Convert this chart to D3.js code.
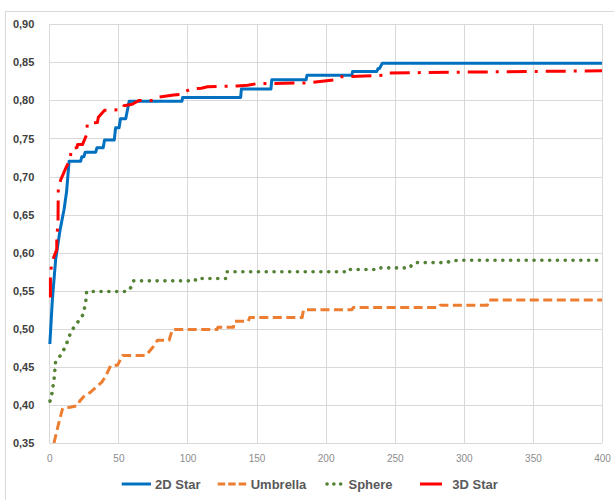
<!DOCTYPE html>
<html>
<head>
<meta charset="utf-8">
<script src="https://cdn.jsdelivr.net/npm/d3@7"></script>
<style>
  body { margin: 0; background: #fff; }
  svg { display: block; }
</style>
</head>
<body>
<div id="app"></div>
<script>
// x tick values and y tick values
const xTicks = [0, 50, 100, 150, 200, 250, 300, 350, 400];
const yTicks = [0.35, 0.40, 0.45, 0.50, 0.55, 0.60, 0.65, 0.70, 0.75, 0.80, 0.85, 0.90];

// series as [x, value] break points
const star2d = [
    [0.4, 0.48], [2.2, 0.538], [4.6, 0.591], [7.8, 0.63], [10.7, 0.657], [12.5, 0.68], [14.3, 0.72],
    [22.7, 0.72], [23.5, 0.726], [25, 0.726], [26, 0.732], [33.6, 0.732], [34.5, 0.738], [39, 0.738],
    [40, 0.748], [47, 0.748], [48, 0.764], [50.5, 0.764], [51.5, 0.776], [55.3, 0.776], [57.8, 0.799],
    [96, 0.799], [96.5, 0.804], [138.5, 0.804], [139, 0.815], [160.4, 0.815], [161, 0.827],
    [185.8, 0.827], [186.5, 0.833], [219, 0.833], [219.5, 0.838], [237, 0.838], [238, 0.842],
    [239, 0.842], [241, 0.849], [400, 0.849]
];
const umbrella = [
    [3.4, 0.35], [6, 0.37], [9.4, 0.394], [10, 0.396], [15, 0.397], [20.3, 0.399], [22, 0.405],
    [25, 0.411], [30, 0.417], [34.8, 0.425], [38, 0.43], [40.9, 0.438], [44.5, 0.452], [49.3, 0.452],
    [53, 0.465], [69.9, 0.465], [74.6, 0.475], [78.3, 0.485], [86.7, 0.485], [89.1, 0.499],
    [121.3, 0.499], [122, 0.502], [133.3, 0.502], [134, 0.51], [144, 0.51], [145, 0.515],
    [183, 0.515], [184, 0.525], [219, 0.525], [220, 0.528], [282, 0.528], [283, 0.531],
    [317, 0.531], [318, 0.538], [400, 0.538]
];
const sphere = [
    [0.5, 0.405], [2, 0.416], [3.5, 0.435], [4.5, 0.456], [7, 0.462], [11.9, 0.477], [14.3, 0.49],
    [16.7, 0.499], [20.3, 0.508], [24.6, 0.519], [26.4, 0.536], [27, 0.549], [56.5, 0.549],
    [59.4, 0.555], [61, 0.563], [105.6, 0.563], [106, 0.566], [128, 0.566], [128.6, 0.575],
    [215.5, 0.575], [216, 0.578], [237, 0.578], [238, 0.58], [261, 0.58], [262.6, 0.585],
    [266, 0.587], [288, 0.587], [290, 0.589], [296, 0.59], [400, 0.59]
];
const star3d = [
    [0.8, 0.541], [0.8, 0.571], [1.5, 0.582], [3.4, 0.595], [5.4, 0.604], [5.4, 0.615], [5.8, 0.628],
    [6.3, 0.641], [6.5, 0.683], [8.3, 0.696], [10, 0.703], [11.9, 0.711], [15, 0.722], [16, 0.737],
    [20, 0.738], [20.5, 0.742], [24, 0.742], [27, 0.755], [27.5, 0.77], [34.8, 0.771], [35.5, 0.778],
    [40, 0.787], [53, 0.788], [54, 0.793], [60, 0.795], [65, 0.8], [75, 0.8], [78, 0.804],
    [90, 0.807], [96, 0.808], [97.6, 0.811], [102.5, 0.815], [110, 0.816], [114.5, 0.818],
    [136, 0.819], [143.5, 0.82], [150, 0.822], [186, 0.823], [207, 0.827], [210.6, 0.831],
    [241.8, 0.833], [244.5, 0.836], [290, 0.837], [350, 0.838], [400, 0.839]
];

const seriesNames = ["2D Star", "Umbrella", "Sphere", "3D Star"];

const width = 614, height = 500;
const margin = { left: 49.3, right: 12, top: 24.3, bottom: 57 };

const series = [
    { name: seriesNames[0], values: star2d, color: "#0070C0", dash: null, width: 3, cap: "butt" },
    { name: seriesNames[1], values: umbrella, color: "#ED7D31", dash: "9 4.5", width: 3, cap: "butt" },
    { name: seriesNames[2], values: sphere, color: "#548235", dash: "0.1 7.7", width: 3.6, cap: "round" },
    { name: seriesNames[3], values: star3d, color: "#FF0000", dash: "20 8 3 8", width: 3, cap: "butt" },
];

const svg = d3.select("#app").append("svg")
    .attr("width", width)
    .attr("height", height);

// chart frame (only top/left edges fall inside the picture)
svg.append("rect")
    .attr("x", 5.5).attr("y", 11.5)
    .attr("width", 640).attr("height", 520)
    .attr("fill", "none")
    .attr("stroke", "#D9D9D9");

const x = d3.scaleLinear().domain([0, 400]).range([margin.left, width - margin.right]);
const y = d3.scaleLinear().domain([0.35, 0.90]).range([height - margin.bottom, margin.top]);

// grid
svg.append("g").selectAll("line")
    .data(yTicks)
    .join("line")
    .attr("x1", x(0)).attr("x2", x(400))
    .attr("y1", d => Math.round(y(d)) + 0.5).attr("y2", d => Math.round(y(d)) + 0.5)
    .attr("stroke", "#D9D9D9");

svg.append("g").selectAll("line")
    .data(xTicks)
    .join("line")
    .attr("x1", d => Math.round(x(d)) + 0.5).attr("x2", d => Math.round(x(d)) + 0.5)
    .attr("y1", y(0.90)).attr("y2", y(0.35))
    .attr("stroke", "#D9D9D9");

// axes labels
const yAxis = svg.append("g")
    .attr("transform", `translate(${x(0) - 15},0)`)
    .call(d3.axisLeft(y).tickValues(yTicks).tickSize(0).tickFormat(d => d3.format(".2f")(d).replace(".", ",")));
yAxis.select(".domain").remove();
yAxis.selectAll("text")
    .attr("font-family", "'Liberation Sans', Arial, sans-serif")
    .attr("font-size", 11)
    .attr("font-weight", "bold")
    .attr("fill", "#404040")
    .attr("x", 0);

const xAxis = svg.append("g")
    .attr("transform", `translate(0,${y(0.35) + 9})`)
    .call(d3.axisBottom(x).tickValues(xTicks).tickSize(0));
xAxis.select(".domain").remove();
xAxis.selectAll("text")
    .attr("font-family", "'Liberation Sans', Arial, sans-serif")
    .attr("font-size", 10)
    .attr("fill", "#8C8C8C");

// lines
svg.append("clipPath").attr("id", "plot")
    .append("rect")
    .attr("x", x(0) - 2).attr("y", y(0.90) - 4)
    .attr("width", x(400) - x(0) + 4).attr("height", y(0.35) - y(0.90) + 4);

const line = d3.line().x(d => x(d[0])).y(d => y(d[1]));

svg.append("g")
    .attr("clip-path", "url(#plot)")
    .selectAll("path")
    .data(series)
    .join("path")
    .attr("d", d => line(d.values))
    .attr("fill", "none")
    .attr("stroke", d => d.color)
    .attr("stroke-width", d => d.width)
    .attr("stroke-dasharray", d => d.dash)
    .attr("stroke-linecap", d => d.cap)
    .attr("stroke-linejoin", "round");

// legend
const legendY = 484;
const legendPos = [
    { x0: 121.7, x1: 151, tx: 155 },
    { x0: 217.7, x1: 246.5, tx: 250.7 },
    { x0: 327, x1: 347, tx: 348.5 },
    { x0: 420, x1: 442, tx: 452.3 },
];
const legend = svg.append("g")
    .selectAll("g")
    .data(series)
    .join("g");

legend.append("line")
    .attr("x1", (d, i) => legendPos[i].x0)
    .attr("x2", (d, i) => legendPos[i].x1)
    .attr("y1", legendY).attr("y2", legendY)
    .attr("stroke", d => d.color)
    .attr("stroke-width", d => d.width)
    .attr("stroke-dasharray", (d, i) => i === 1 ? "7.5 3" : i === 2 ? "0.1 6.7" : null)
    .attr("stroke-linecap", d => d.cap);

legend.append("text")
    .attr("x", (d, i) => legendPos[i].tx)
    .attr("y", legendY)
    .attr("dy", "0.35em")
    .attr("font-family", "'Liberation Sans', Arial, sans-serif")
    .attr("font-size", 13)
    .attr("font-weight", "bold")
    .attr("fill", "#595959")
    .text(d => d.name);
</script>
</body>
</html>
